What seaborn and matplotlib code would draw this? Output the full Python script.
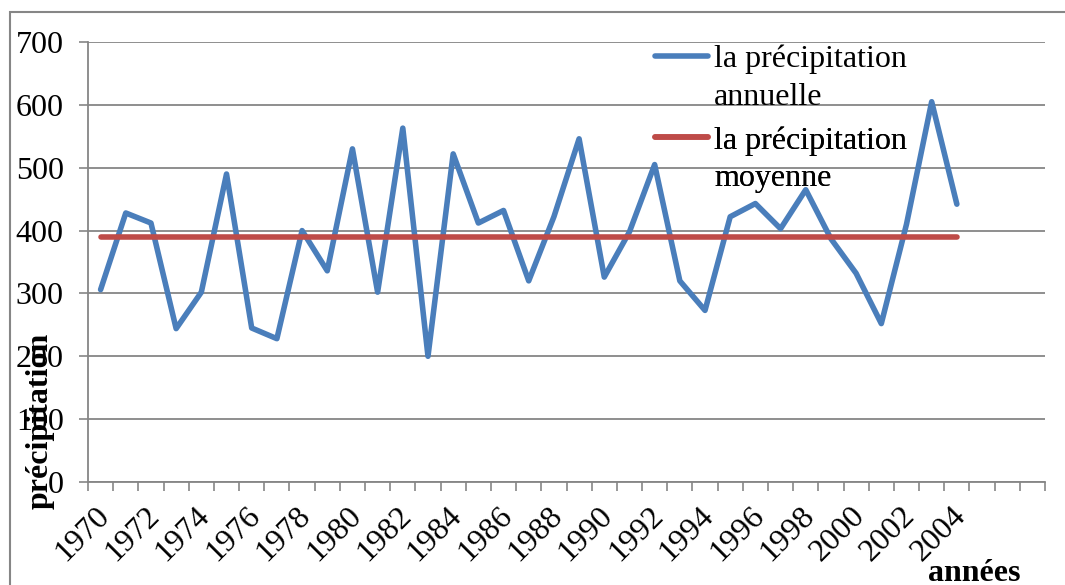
import matplotlib
matplotlib.use("Agg")
import matplotlib.pyplot as plt
import seaborn as sns
import pandas as pd
from matplotlib.patches import Rectangle
from matplotlib.lines import Line2D
from matplotlib.transforms import ScaledTranslation

# ---- data ----
years = list(range(1970, 2005))
annual = [306, 428, 412, 244, 302, 490, 245, 228, 400, 336,
          530, 302, 563, 200, 522, 412, 432, 320, 422, 546,
          326, 398, 505, 320, 273, 422, 443, 403, 465, 387,
          332, 252, 410, 605, 442]
mean_value = [389]
yticks = [0, 100, 200, 300, 400, 500, 600, 700]
label_years = list(range(1970, 2005, 2))
series_labels = [["la précipitation", "annuelle"],
                 ["la précipitation", "moyenne"]]
ylabel_text = "précipitation"
xlabel_text = "années"

sns.set_style("white")
plt.rcParams['font.family'] = ['Liberation Serif', 'DejaVu Serif']
plt.rcParams['text.color'] = 'black'

W, H = 1065, 585
FS = 23
fig = plt.figure(figsize=(W / 100, H / 100), dpi=100)
ax = fig.add_axes([88 / W, 1 - 482 / H, (1045 - 88) / W, (482 - 42) / H])

df = pd.DataFrame({"year": years, "annual": annual,
                   "mean": mean_value * len(years)})

grey = "#868686"
blue = "#4A7EBB"
red = "#BE4B48"
LW = 4.0

sns.lineplot(data=df, x="year", y="annual", ax=ax, color=blue, lw=LW,
             solid_capstyle="round", legend=False)
sns.lineplot(data=df, x="year", y="mean", ax=ax, color=red, lw=LW,
             solid_capstyle="round", legend=False)

ax.set_xlim(1969.5, 2007.5)
ax.set_ylim(0, 700)

# y axis
ax.set_yticks(yticks)
ax.set_yticklabels([str(v) for v in yticks], fontsize=FS)
ax.yaxis.grid(True, color=grey, lw=1.3)
ax.xaxis.grid(False)
ax.tick_params(axis="y", direction="out", length=6.5, width=1.2,
               color=grey, pad=11, left=True, labelcolor="black")

# x axis: boundary ticks (major) + centred labels (minor)
boundaries = [1969.5 + k for k in range(0, 39)]
ax.set_xticks(boundaries)
ax.set_xticklabels([])
ax.set_xticks(label_years, minor=True)
ax.set_xticklabels([str(y) for y in label_years], minor=True, fontsize=FS,
                   rotation=45, ha="right", rotation_mode="anchor")
ax.tick_params(axis="x", which="major", direction="out", length=6.5,
               width=1.2, color=grey, bottom=True)
ax.tick_params(axis="x", which="minor", length=0, pad=14,
               labelcolor="black")
shift = ScaledTranslation(-6 / 100, 0, fig.dpi_scale_trans)
for lbl in ax.get_xticklabels(minor=True):
    lbl.set_va("top")
    lbl.set_transform(lbl.get_transform() + shift)

for s in ["top", "right"]:
    ax.spines[s].set_visible(False)
for s in ["left", "bottom"]:
    ax.spines[s].set_color(grey)
    ax.spines[s].set_linewidth(1.3)
ax.set_xlabel("")
ax.set_ylabel("")

# legend: one legend per series, handle aligned with first line
blank = Line2D([], [], color="none")
x0 = (655 - 88) / 957
tops = [(482 - 45) / 440, (482 - 126) / 440]
for color, lab, top in zip([blue, red], series_labels, tops):
    h = Line2D([], [], color=color, lw=LW, solid_capstyle="round")
    lg = ax.legend([h, blank], lab, loc="upper left",
                   bbox_to_anchor=(x0, top), frameon=False, fontsize=FS,
                   handlelength=1.65, handletextpad=0.2, borderpad=0,
                   borderaxespad=0, labelspacing=0.25)
    ax.add_artist(lg)

fig.text(40 / W, 1 - 421 / H, ylabel_text, rotation=90, ha="center",
         va="center", fontsize=FS, fontweight="bold")
fig.text(974 / W, 1 - 581 / H, xlabel_text, ha="center", va="baseline",
         fontsize=FS, fontweight="bold")

fig.add_artist(Rectangle((10 / W, -0.1), 1.2, 1.1 - 12 / H,
                         transform=fig.transFigure, fill=False,
                         edgecolor=grey, lw=1.5))

fig.savefig("out.png", dpi=100)
